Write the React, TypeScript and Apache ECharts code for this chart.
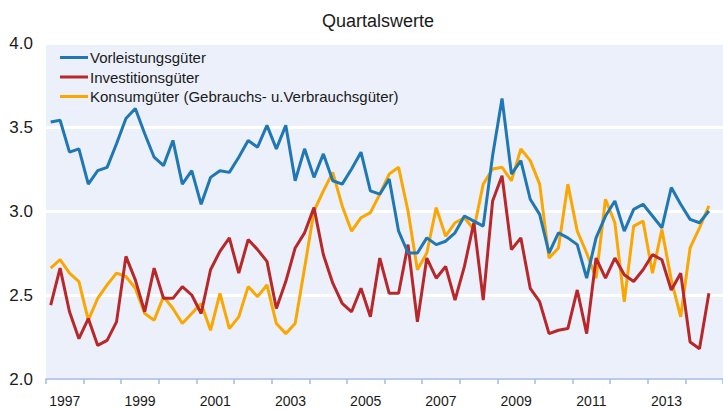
import React, { useEffect, useRef } from "react";
import * as echarts from "echarts";

const years = ["1997","1998","1999","2000","2001","2002","2003","2004","2005","2006","2007","2008","2009","2010","2011","2012","2013","2014"];
const startYear = 1997;

const vorleistung = [3.53,3.54,3.35,3.37,3.16,3.24,3.26,3.40,3.55,3.61,3.46,3.32,3.27,3.42,3.16,3.24,3.04,3.20,3.24,3.23,3.32,3.42,3.38,3.51,3.37,3.51,3.18,3.37,3.20,3.34,3.18,3.16,3.25,3.35,3.12,3.10,3.19,2.88,2.75,2.75,2.84,2.80,2.82,2.87,2.97,2.94,2.91,3.33,3.67,3.22,3.30,3.07,2.98,2.75,2.87,2.84,2.80,2.60,2.84,2.97,3.06,2.88,3.01,3.04,2.97,2.90,3.14,3.04,2.95,2.93,3.00];
const investition = [2.44,2.66,2.40,2.24,2.36,2.20,2.23,2.34,2.73,2.59,2.40,2.66,2.48,2.48,2.55,2.50,2.39,2.65,2.76,2.84,2.63,2.83,2.77,2.70,2.42,2.58,2.78,2.87,3.02,2.74,2.57,2.45,2.40,2.54,2.37,2.72,2.51,2.51,2.80,2.34,2.72,2.60,2.67,2.47,2.67,2.93,2.47,3.06,3.21,2.77,2.84,2.54,2.46,2.27,2.29,2.30,2.53,2.27,2.72,2.60,2.72,2.62,2.58,2.65,2.74,2.71,2.53,2.63,2.22,2.18,2.51];
const konsum = [2.66,2.71,2.63,2.58,2.35,2.48,2.56,2.63,2.61,2.54,2.39,2.35,2.49,2.42,2.33,2.39,2.45,2.29,2.51,2.30,2.37,2.55,2.49,2.56,2.33,2.27,2.33,2.66,3.00,3.12,3.23,3.03,2.88,2.96,2.99,3.10,3.22,3.26,3.00,2.65,2.75,3.02,2.85,2.93,2.96,2.89,3.16,3.25,3.26,3.18,3.37,3.30,3.16,2.72,2.78,3.16,2.88,2.75,2.60,3.07,2.93,2.46,2.91,2.94,2.63,2.89,2.59,2.37,2.78,2.90,3.03];

const seriesNames = ["Vorleistungsgüter", "Investitionsgüter", "Konsumgüter (Gebrauchs- u.Verbrauchsgüter)"];
const colors = ["#1f78b4", "#b8282a", "#fba701"];

const toPoints = (arr: number[]) => arr.map((v, i) => [startYear + i / 4 + 0.125, v]);

export default function App() {
  const ref = useRef<HTMLDivElement>(null);
  useEffect(() => {
    if (!ref.current) return;
    const chart = echarts.init(ref.current, null, { renderer: "svg" });
    const font = "Liberation Sans, Arial, sans-serif";
    chart.setOption({
      animation: false,
      backgroundColor: "#ffffff",
      title: {
        text: "Quartalswerte",
        left: 317,
        top: 7,
        textStyle: { fontFamily: font, fontSize: 18, fontWeight: "normal", color: "#1a1a1a" },
      },
      legend: {
        orient: "vertical",
        left: 55,
        top: 45,
        icon: "rect",
        itemWidth: 28,
        itemHeight: 3,
        itemGap: 4.5,
        textStyle: { fontFamily: font, fontSize: 15, lineHeight: 15, color: "#1a1a1a", padding: [0, 0, 0, -3] },
        data: seriesNames,
      },
      grid: {
        left: 46,
        right: -6,
        top: 43,
        bottom: 30,
        show: true,
        backgroundColor: "#ecf0fa",
        borderWidth: 0,
      },
      xAxis: [
        {
          type: "value",
          min: 1997,
          max: 2015,
          interval: 1,
          axisLine: { show: true, lineStyle: { color: "#a3bbe3", width: 1.5 } },
          axisTick: { show: true, length: 5, lineStyle: { color: "#a3bbe3", width: 1.5 } },
          axisLabel: { show: false },
          splitLine: { show: false },
        },
        {
          type: "category",
          data: years,
          position: "bottom",
          boundaryGap: true,
          axisLine: { show: false },
          axisTick: { show: false },
          splitLine: { show: false },
          axisLabel: { interval: 1, margin: 15, fontFamily: font, fontSize: 14, color: "#1a1a1a" },
        },
      ],
      yAxis: {
        type: "value",
        min: 2.0,
        max: 4.0,
        interval: 0.5,
        axisLine: { show: false },
        axisTick: { show: false },
        axisLabel: {
          margin: 13,
          fontFamily: font,
          fontSize: 17,
          color: "#1a1a1a",
          formatter: (v: number) => v.toFixed(1),
        },
        splitLine: { show: true, lineStyle: { color: "#ffffff", width: 3 } },
      },
      series: [vorleistung, investition, konsum].map((arr, k) => ({
        name: seriesNames[k],
        type: "line",
        xAxisIndex: 0,
        yAxisIndex: 0,
        data: toPoints(arr),
        symbol: "none",
        lineStyle: { color: colors[k], width: 3 },
        itemStyle: { color: colors[k] },
        z: 3 - k,
      })),
    });
    return () => chart.dispose();
  }, []);
  return <div ref={ref} style={{ position: "fixed", left: 0, top: 0, width: 723, height: 409 }} />;
}
